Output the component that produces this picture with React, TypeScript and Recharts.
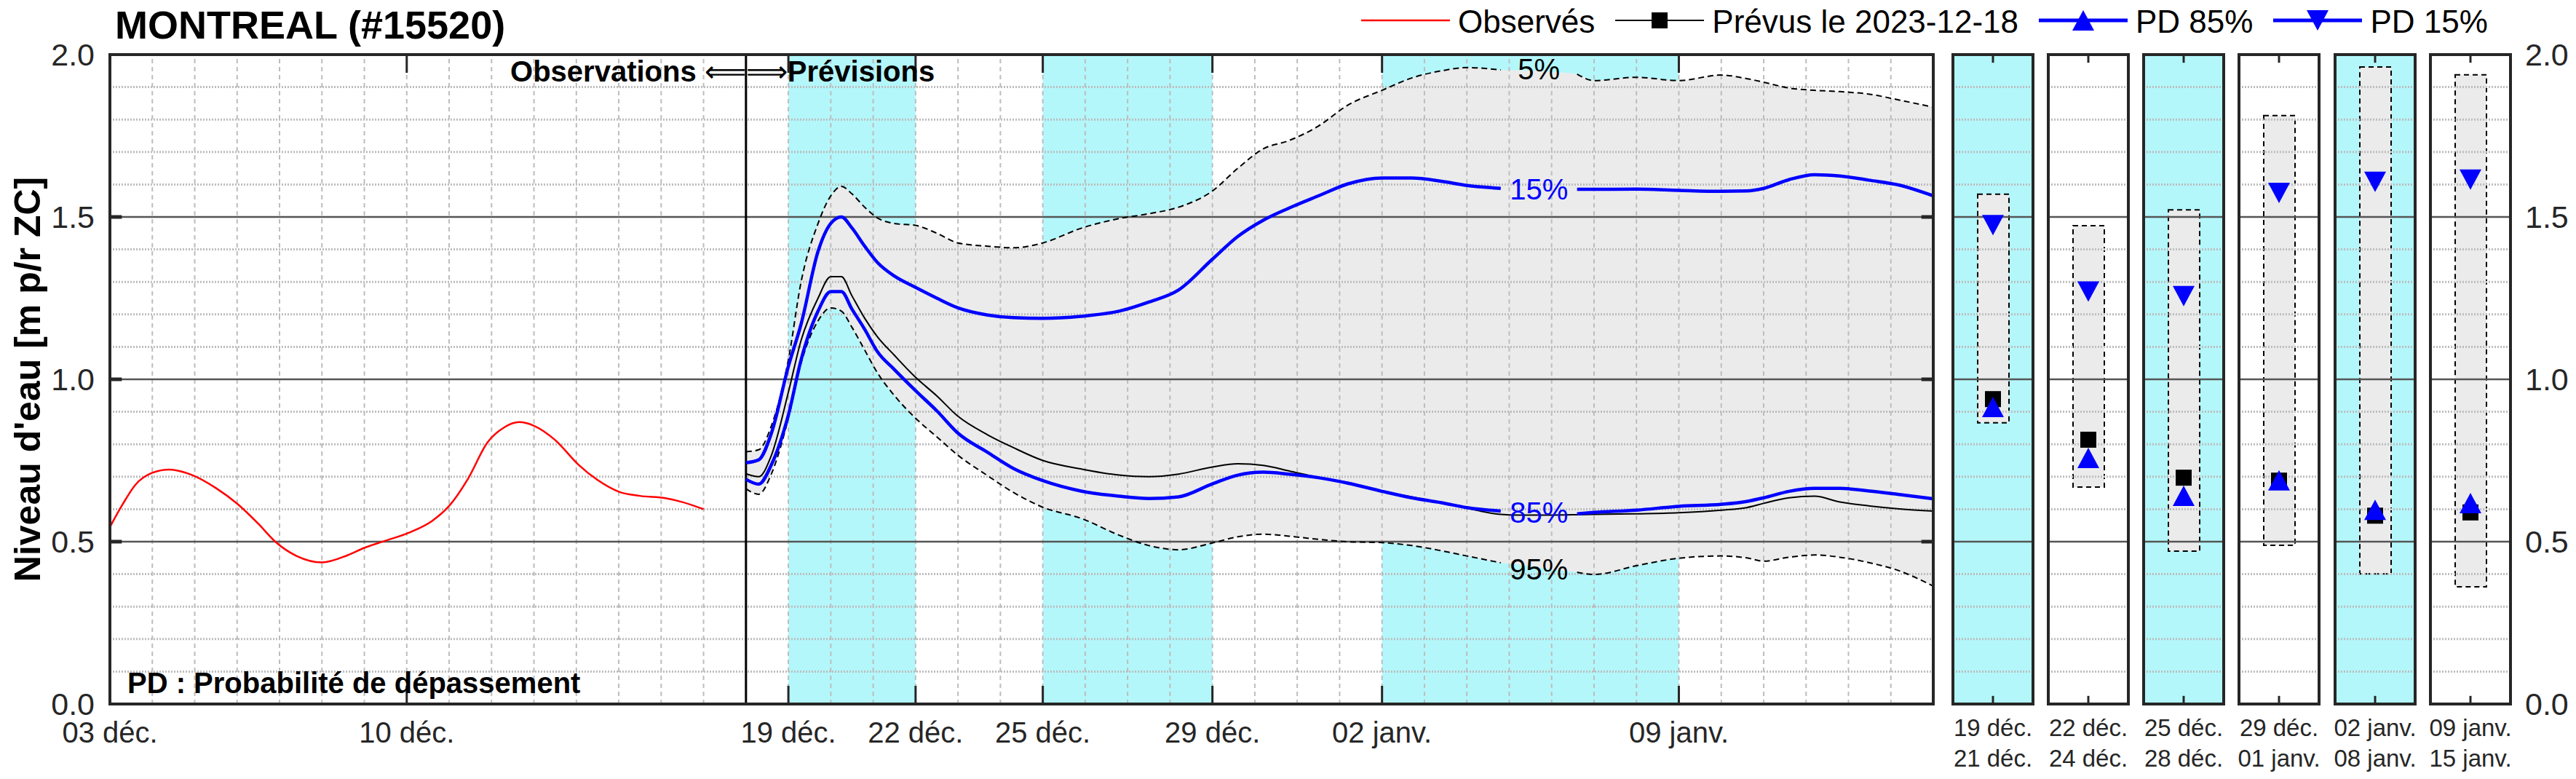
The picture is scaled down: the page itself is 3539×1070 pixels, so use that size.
import React from 'react';
import {
  ComposedChart,
  Line,
  Area,
  Bar,
  Scatter,
  XAxis,
  YAxis,
  ReferenceArea,
  ReferenceLine,
  ReferenceDot,
  Legend,
} from 'recharts';

const FONT = '"Liberation Sans", Arial, Helvetica, sans-serif';
const CYAN = '#b3f7fb';
const FILL = '#ebebeb';
const GRID = '#bdbdbd';
const MAJOR = '#555555';
const FRAME = '#262626';
const BLUE = '#0000ff';
const RED = '#ff0000';

// time axis in days counted from 03 déc. 2023
const obsDays = [0, 0.3, 0.6, 1.0, 1.4, 1.9, 2.5, 3.0, 3.5, 3.9, 4.4, 5.0, 5.6, 6.0, 6.5, 7.1, 7.6, 8.0, 8.45, 8.9, 9.3, 9.65, 10.0, 10.5, 11.05, 11.5, 12.0, 12.5, 13.1, 13.5, 14.0];
const obsLevel = [0.545, 0.615, 0.675, 0.712, 0.722, 0.707, 0.665, 0.617, 0.555, 0.5, 0.456, 0.436, 0.458, 0.481, 0.503, 0.53, 0.564, 0.61, 0.695, 0.805, 0.852, 0.868, 0.857, 0.813, 0.737, 0.69, 0.654, 0.641, 0.634, 0.622, 0.6];

const fcDays = [15, 15.3, 15.6, 16, 16.3, 16.7, 17, 17.25, 17.5, 17.8, 18.1, 18.5, 19, 19.5, 20, 20.7, 21.3, 22, 22.9, 23.8, 24.5, 25.2, 26, 26.6, 27.2, 27.8, 28.5, 29.2, 30, 30.7, 31.4, 32, 32.8, 33.2, 34, 34.6, 35, 36, 37, 38, 38.6, 39, 39.6, 40.2, 40.8, 41.5, 42.2, 43];
const fc5 = [0.777, 0.783, 0.857, 1.06, 1.3, 1.48, 1.565, 1.594, 1.571, 1.53, 1.497, 1.48, 1.474, 1.45, 1.42, 1.41, 1.405, 1.42, 1.465, 1.495, 1.51, 1.53, 1.58, 1.65, 1.71, 1.735, 1.78, 1.845, 1.89, 1.928, 1.95, 1.96, 1.953, 1.952, 1.947, 1.94, 1.92, 1.93, 1.92, 1.937, 1.926, 1.915, 1.897, 1.89, 1.886, 1.878, 1.86, 1.838];
const fc15 = [0.743, 0.752, 0.834, 1.04, 1.17, 1.394, 1.48, 1.5, 1.466, 1.41, 1.36, 1.318, 1.283, 1.25, 1.22, 1.198, 1.19, 1.188, 1.194, 1.21, 1.238, 1.275, 1.37, 1.44, 1.49, 1.527, 1.565, 1.602, 1.62, 1.62, 1.61, 1.597, 1.588, 1.587, 1.585, 1.585, 1.585, 1.586, 1.582, 1.579, 1.58, 1.588, 1.615, 1.63, 1.626, 1.613, 1.598, 1.565];
const fcPrev = [0.709, 0.7, 0.766, 0.96, 1.12, 1.25, 1.316, 1.316, 1.257, 1.188, 1.131, 1.074, 1.006, 0.949, 0.886, 0.829, 0.79, 0.75, 0.724, 0.705, 0.7, 0.708, 0.73, 0.74, 0.735, 0.718, 0.698, 0.682, 0.655, 0.638, 0.62, 0.603, 0.584, 0.582, 0.582, 0.583, 0.584, 0.586, 0.589, 0.597, 0.605, 0.618, 0.635, 0.64, 0.622, 0.61, 0.601, 0.594];
const fc85 = [0.692, 0.677, 0.737, 0.89, 1.06, 1.21, 1.27, 1.27, 1.216, 1.154, 1.085, 1.03, 0.965, 0.903, 0.834, 0.775, 0.726, 0.688, 0.656, 0.64, 0.633, 0.638, 0.678, 0.705, 0.714, 0.708, 0.697, 0.68, 0.655, 0.635, 0.62, 0.605, 0.594, 0.591, 0.587, 0.586, 0.59, 0.597, 0.609, 0.615, 0.624, 0.635, 0.655, 0.664, 0.664, 0.656, 0.645, 0.632];
const fc95 = [0.663, 0.646, 0.709, 0.88, 1.05, 1.18, 1.22, 1.21, 1.16, 1.09, 1.02, 0.95, 0.88, 0.823, 0.766, 0.703, 0.652, 0.606, 0.572, 0.52, 0.488, 0.475, 0.496, 0.515, 0.523, 0.517, 0.507, 0.5, 0.497, 0.488, 0.472, 0.456, 0.435, 0.43, 0.415, 0.406, 0.399, 0.426, 0.449, 0.456, 0.45, 0.44, 0.452, 0.459, 0.452, 0.435, 0.41, 0.363];

const tickDays = [0, 7, 16, 19, 22, 26, 30, 37];
const tickLabels = ['03 déc.', '10 déc.', '19 déc.', '22 déc.', '25 déc.', '29 déc.', '02 janv.', '09 janv.'];
const shadedPeriods = [[16, 19], [22, 26], [30, 37]];
const splitDay = 15;
const lastDay = 43;

const pctLabels = ['5%', '15%', '85%', '95%'];
const pctLevels = [1.955, 1.585, 0.59, 0.415];
const pctDay = 33.7;
const gapFrom = 32.9;
const gapTo = 34.5;

const periodStart = ['19 déc.', '22 déc.', '25 déc.', '29 déc.', '02 janv.', '09 janv.'];
const periodEnd = ['21 déc.', '24 déc.', '28 déc.', '01 janv.', '08 janv.', '15 janv.'];
const periodShaded = [true, false, true, false, true, false];
const period5 = [1.57, 1.473, 1.522, 1.812, 1.962, 1.938];
const period95 = [0.866, 0.668, 0.471, 0.489, 0.401, 0.361];
const period15 = [1.475, 1.27, 1.256, 1.574, 1.608, 1.615];
const periodPrev = [0.939, 0.814, 0.697, 0.688, 0.58, 0.59];
const period85 = [0.915, 0.758, 0.641, 0.689, 0.598, 0.619];

const yTicks = [0, 0.5, 1, 1.5, 2];
const minorLevels = Array.from({ length: 19 }, (_, k) => +(0.1 * (k + 1)).toFixed(1)).filter((v) => v % 0.5 !== 0);
const majorLevels = [0.5, 1, 1.5];
const dayLines = Array.from({ length: lastDay - 1 }, (_, k) => k + 1);

// left edge of each small panel's plot area, and side room for its date labels
const panelLeft = [2683, 2814, 2945, 3076, 3208, 3339];
const panelPad = 20;

const inGap = (d: number) => d > gapFrom && d < gapTo;

const rows = [
  ...obsDays.map((d, i) => ({ day: d, obs: obsLevel[i] })),
  ...fcDays.map((d, i) => ({
    day: d,
    band: [fc95[i], fc5[i]],
    p5: inGap(d) ? null : fc5[i],
    p15: inGap(d) ? null : fc15[i],
    prev: fcPrev[i],
    p85: inGap(d) ? null : fc85[i],
    p95: inGap(d) ? null : fc95[i],
  })),
];

const squareShape = (p: any) => <rect x={p.cx - 11} y={p.cy - 11} width={22} height={22} fill="#000" />;
const upShape = (p: any) => (
  <polygon points={`${p.cx - 15},${p.cy + 14} ${p.cx + 15},${p.cy + 14} ${p.cx},${p.cy - 14}`} fill={BLUE} />
);
const downShape = (p: any) => (
  <polygon points={`${p.cx - 15},${p.cy - 14} ${p.cx + 15},${p.cy - 14} ${p.cx},${p.cy + 14}`} fill={BLUE} />
);

const legendEntries = [
  { label: 'Observés', color: RED, width: 2.5, marker: '' },
  { label: 'Prévus le 2023-12-18', color: '#000', width: 2, marker: 'square' },
  { label: 'PD 85%', color: BLUE, width: 5, marker: 'up' },
  { label: 'PD 15%', color: BLUE, width: 5, marker: 'down' },
];

function LegendBox() {
  return (
    <div style={{ display: 'flex', alignItems: 'center', fontFamily: FONT, fontSize: 44, lineHeight: '44px', color: '#000' }}>
      {legendEntries.map((e) => (
        <div key={e.label} style={{ display: 'flex', alignItems: 'center', marginRight: 28 }}>
          <svg width={122} height={44} style={{ marginRight: 11 }}>
            <line x1={0} x2={122} y1={20} y2={20} stroke={e.color} strokeWidth={e.width} />
            {e.marker === 'square' && squareShape({ cx: 61, cy: 20 })}
            {e.marker === 'up' && upShape({ cx: 61, cy: 20 })}
            {e.marker === 'down' && downShape({ cx: 61, cy: 20 })}
          </svg>
          <span>{e.label}</span>
        </div>
      ))}
    </div>
  );
}

function YTitle(props: any) {
  const vb = props.viewBox;
  const cy = vb.y + vb.height / 2;
  return (
    <text x={38} y={cy} transform={`rotate(-90, 38, ${cy})`} textAnchor="middle" dominantBaseline="central"
      fontFamily={FONT} fontSize={50} fontWeight="bold" fill="#000">
      Niveau d'eau [m p/r ZC]
    </text>
  );
}

function MainChart() {
  return (
    <ComposedChart width={2700} height={1070} data={rows} margin={{ top: 75, right: 44, bottom: 0, left: 0 }}>
      <XAxis dataKey="day" type="number" domain={[0, lastDay]} ticks={tickDays} interval={0}
        tickFormatter={(v) => tickLabels[tickDays.indexOf(v)]} height={103} axisLine={false} tickLine={false}
        tickSize={0} tickMargin={25} tick={{ fontSize: 40, fill: FRAME, fontFamily: FONT }} allowDataOverflow />
      <YAxis type="number" domain={[0, 2]} ticks={yTicks} width={151} axisLine={false} tickLine={false}
        tickSize={0} tickMargin={21} tickFormatter={(v) => v.toFixed(1)}
        tick={{ fontSize: 43, fill: FRAME, fontFamily: FONT }} label={<YTitle />} allowDataOverflow />

      {shadedPeriods.map(([a, b]) => (
        <ReferenceArea key={a} x1={a} x2={b} y1={0} y2={2} fill={CYAN} fillOpacity={1} stroke="none" zIndex={-200} />
      ))}
      <Area dataKey="band" type="monotone" fill={FILL} fillOpacity={1} stroke="none" isAnimationActive={false} zIndex={100} />

      {dayLines.map((d) => (
        <ReferenceLine key={'v' + d} x={d} stroke={GRID} strokeWidth={2} strokeDasharray="6 5" zIndex={150} />
      ))}
      {minorLevels.map((v) => (
        <ReferenceLine key={'h' + v} y={v} stroke={GRID} strokeWidth={3} strokeDasharray="2 2" zIndex={150} />
      ))}
      {majorLevels.map((v) => (
        <ReferenceLine key={'m' + v} y={v} stroke={MAJOR} strokeWidth={2.5} zIndex={160} />
      ))}
      <ReferenceLine x={splitDay} stroke="#000" strokeWidth={3} zIndex={170} />

      <Line dataKey="obs" type="monotone" stroke={RED} strokeWidth={2.5} dot={false} isAnimationActive={false} zIndex={400} />
      <Line dataKey="p5" type="monotone" stroke="#000" strokeWidth={2} strokeDasharray="8 5" dot={false} isAnimationActive={false} zIndex={400} />
      <Line dataKey="p95" type="monotone" stroke="#000" strokeWidth={2} strokeDasharray="8 5" dot={false} isAnimationActive={false} zIndex={400} />
      <Line dataKey="prev" type="monotone" stroke="#000" strokeWidth={2} dot={false} isAnimationActive={false} zIndex={400} />
      <Line dataKey="p85" type="monotone" stroke={BLUE} strokeWidth={4.5} dot={false} isAnimationActive={false} zIndex={400} />
      <Line dataKey="p15" type="monotone" stroke={BLUE} strokeWidth={4.5} dot={false} isAnimationActive={false} zIndex={400} />

      {tickDays.map((d) => (
        <ReferenceLine key={'tb' + d} segment={[{ x: d, y: 0 }, { x: d, y: 0.056 }]} stroke={FRAME} strokeWidth={3} zIndex={500} />
      ))}
      {tickDays.map((d) => (
        <ReferenceLine key={'tt' + d} segment={[{ x: d, y: 2 }, { x: d, y: 1.944 }]} stroke={FRAME} strokeWidth={3} zIndex={500} />
      ))}
      {majorLevels.map((v) => (
        <ReferenceLine key={'yl' + v} segment={[{ x: 0, y: v }, { x: 0.28, y: v }]} stroke={FRAME} strokeWidth={5} zIndex={500} />
      ))}
      {majorLevels.map((v) => (
        <ReferenceLine key={'yr' + v} segment={[{ x: lastDay - 0.28, y: v }, { x: lastDay, y: v }]} stroke={FRAME} strokeWidth={5} zIndex={500} />
      ))}
      <ReferenceArea x1={0} x2={lastDay} y1={0} y2={2} fill="none" stroke={FRAME} strokeWidth={4} zIndex={600} />

      {pctLabels.map((t, i) => (
        <ReferenceDot key={t} x={pctDay} y={pctLevels[i]} r={0} zIndex={2000}
          shape={(p: any) => (
            <text x={p.cx} y={p.cy} textAnchor="middle" dominantBaseline="central" fontFamily={FONT} fontSize={40}
              fill={i === 1 || i === 2 ? BLUE : '#000'}>{t}</text>
          )} />
      ))}
      <ReferenceDot x={splitDay} y={1.917} r={0} zIndex={2000}
        shape={(p: any) => (
          <g fontFamily={FONT} fontSize={40} fill="#000">
            <text x={p.cx} y={p.cy} textAnchor="end"><tspan fontWeight="bold">Observations </tspan>⟸</text>
            <text x={p.cx} y={p.cy} textAnchor="start">⟹<tspan fontWeight="bold">Prévisions</tspan></text>
          </g>
        )} />
      <ReferenceDot x={0} y={0} r={0} zIndex={2000}
        shape={(p: any) => (
          <text x={p.cx + 24} y={p.cy - 15} fontFamily={FONT} fontSize={40} fontWeight="bold" fill="#000">
            PD : Probabilité de dépassement
          </text>
        )} />

      <Legend layout="horizontal" verticalAlign="middle" align="center" content={<LegendBox />}
        wrapperStyle={{ left: 1870, top: 8, width: 1700, height: 44 }} />
    </ComposedChart>
  );
}

function PeriodPanel({ i }: { i: number }) {
  const last = i === periodStart.length - 1;
  const data = [{ name: periodStart[i], range: [period95[i], period5[i]], prev: periodPrev[i], p15: period15[i], p85: period85[i] }];
  const PeriodTick = (props: any) => (
    <g fontFamily={FONT} fontSize={33} fill={FRAME}>
      <text x={props.x} y={props.y + 44} textAnchor="middle">{periodStart[i]}</text>
      <text x={props.x} y={props.y + 86} textAnchor="middle">{periodEnd[i]}</text>
    </g>
  );
  return (
    <ComposedChart width={110 + 2 * panelPad + (last ? 90 : 0)} height={1070} data={data}
      margin={{ top: 75, right: panelPad, bottom: 0, left: panelPad }}>
      <XAxis dataKey="name" type="category" height={103} axisLine={false} tickLine={false} tickSize={0} tickMargin={0}
        interval={0} tick={<PeriodTick />} />
      {last ? (
        <YAxis orientation="right" type="number" domain={[0, 2]} ticks={yTicks} width={90} axisLine={false} tickLine={false}
          tickSize={0} tickMargin={20} tickFormatter={(v) => v.toFixed(1)} tick={{ fontSize: 43, fill: FRAME, fontFamily: FONT }} />
      ) : (
        <YAxis hide type="number" domain={[0, 2]} />
      )}
      {periodShaded[i] && <ReferenceArea y1={0} y2={2} fill={CYAN} fillOpacity={1} stroke="none" zIndex={-200} />}
      <Bar dataKey="range" barSize={43} fill={FILL} stroke="#000" strokeWidth={2} strokeDasharray="7 5" isAnimationActive={false} zIndex={100} />
      {minorLevels.map((v) => (
        <ReferenceLine key={'h' + v} y={v} stroke={GRID} strokeWidth={3} strokeDasharray="2 2" zIndex={150} />
      ))}
      {majorLevels.map((v) => (
        <ReferenceLine key={'m' + v} y={v} stroke={MAJOR} strokeWidth={2.5} zIndex={160} />
      ))}
      <Scatter dataKey="prev" shape={squareShape} isAnimationActive={false} zIndex={600} />
      <Scatter dataKey="p85" shape={upShape} isAnimationActive={false} zIndex={610} />
      <Scatter dataKey="p15" shape={downShape} isAnimationActive={false} zIndex={620} />
      <ReferenceLine segment={[{ x: periodStart[i], y: 0 }, { x: periodStart[i], y: 0.025 }]} stroke={FRAME} strokeWidth={3} zIndex={500} />
      <ReferenceLine segment={[{ x: periodStart[i], y: 2 }, { x: periodStart[i], y: 1.975 }]} stroke={FRAME} strokeWidth={3} zIndex={500} />
      <ReferenceArea y1={0} y2={2} fill="none" stroke={FRAME} strokeWidth={4} zIndex={700} />
    </ComposedChart>
  );
}

export default function App() {
  return (
    <div style={{ position: 'absolute', left: 0, top: 0, width: 3539, height: 1070, background: '#fff', fontFamily: FONT }}>
      <div style={{ position: 'absolute', left: 0, top: 0 }}>
        <MainChart />
      </div>
      {panelLeft.map((left, i) => (
        <div key={i} style={{ position: 'absolute', left: left - panelPad, top: 0 }}>
          <PeriodPanel i={i} />
        </div>
      ))}
      <svg width={1200} height={75} style={{ position: 'absolute', left: 0, top: 0, pointerEvents: 'none' }}>
        <text x={158} y={53} fontFamily={FONT} fontSize={54} fontWeight="bold" fill="#000">MONTREAL (#15520)</text>
      </svg>
    </div>
  );
}
